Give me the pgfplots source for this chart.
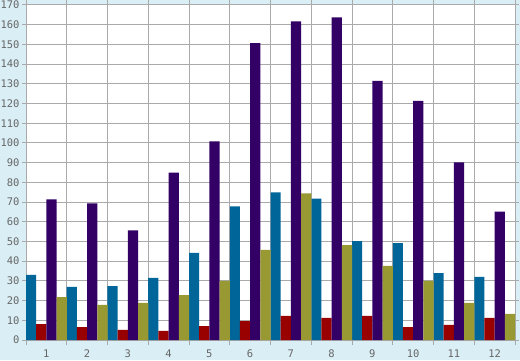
\documentclass[border=0pt]{standalone}
\usepackage{fontspec}
\setmonofont{DejaVu Sans Mono}
\usepackage{pgfplots}
\pgfplotsset{compat=1.18}
\definecolor{bgc}{HTML}{DAEEF5}
\definecolor{gridc}{HTML}{AAAAAA}
\definecolor{labc}{HTML}{666666}
\definecolor{sA}{HTML}{006699}
\definecolor{sB}{HTML}{990000}
\definecolor{sC}{HTML}{330066}
\definecolor{sD}{HTML}{999933}
\begin{document}
\begin{tikzpicture}[x=1bp,y=1bp]
\useasboundingbox (0,0) rectangle (520,360);
\fill[bgc] (0,0) rectangle (520,360);
\begin{axis}[
  at={(26bp,20bp)}, anchor=south west,
  scale only axis, width=489bp, height=335bp,
  xmin=0.5, xmax=12.5, ymin=0, ymax=170,
  axis background/.style={fill=white},
  ybar=0pt, bar width=10.19bp,
  xtick={1,...,12},
  minor xtick={0.5,1.5,...,12.5},
  major x tick style={draw=none},
  minor x tick style={draw=gridc, line width=1bp},
  ytick={0,10,...,170},
  ymajorgrids, xminorgrids,
  grid style={draw=gridc, line width=1bp},
  major grid style={draw=gridc, line width=1bp},
  minor grid style={draw=gridc, line width=1bp},
  tick align=outside,
  major tick length=4bp, minor tick length=5bp,
  y tick style={draw=gridc, line width=1bp},
  axis line style={draw=gridc, line width=1bp},
  tick label style={font=\ttfamily\fontsize{10.5}{10.5}\selectfont, text=labc},
  /pgf/number format/assume math mode=true,
  xticklabel style={yshift=-2.5bp},
  yticklabel style={xshift=1bp},
  every axis plot/.append style={draw=none},
]
\addplot[fill=sA] coordinates {(1,33) (2,26.9) (3,27.4) (4,31.5) (5,44.2) (6,67.8) (7,74.9) (8,71.8) (9,50.2) (10,49.2) (11,34) (12,32)};
\addplot[fill=sB] coordinates {(1,8.1) (2,6.6) (3,5.1) (4,4.6) (5,7.1) (6,9.6) (7,12.2) (8,11.2) (9,12.2) (10,6.6) (11,7.7) (12,11.2)};
\addplot[fill=sC] coordinates {(1,71.3) (2,69.3) (3,55.6) (4,85) (5,100.8) (6,150.6) (7,161.7) (8,163.7) (9,131.5) (10,121.3) (11,90.1) (12,65.2)};
\addplot[fill=sD] coordinates {(1,21.8) (2,17.8) (3,18.8) (4,22.8) (5,30.0) (6,45.7) (7,74.4) (8,48.2) (9,37.6) (10,30.0) (11,18.8) (12,13.2)};
\end{axis}
\end{tikzpicture}
\end{document}
